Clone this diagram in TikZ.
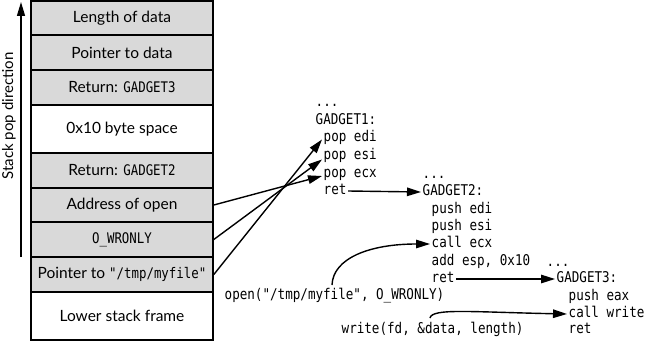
\documentclass[tikz,border=0pt]{standalone}
\usepackage{fontspec}
\setmainfont{Lato}
\newfontfamily\codefont[FakeStretch=0.85]{DejaVu Sans Mono}
\usetikzlibrary{arrows.meta}
\definecolor{cellgray}{RGB}{217,217,217}
\tikzset{
  cell/.style={draw=black, line width=1.6pt, minimum width=182pt, inner sep=0pt, font=\fontsize{15.5}{17}\selectfont, text=black},
  grey/.style={cell, fill=cellgray},
  white/.style={cell, fill=white},
  code/.style={anchor=west, inner sep=1.5pt, font=\codefont\fontsize{14.8}{17}\selectfont, text height=8.5pt, text depth=2pt},
  arr/.style={line width=1.4pt, -{Triangle[length=14pt,width=8.5pt]}},
}
\newcommand{\cm}[1]{{\codefont\fontsize{14.6}{17}\selectfont #1}}
\begin{document}
\begin{tikzpicture}[x=1pt,y=-1pt]
\useasboundingbox (0,0) rectangle (647,342);
% stack
\node[grey, minimum height=34pt] (r1) at (122,18) {Length of data};
\node[grey, minimum height=35pt] (r2) at (122,52.5) {Pointer to data};
\node[grey, minimum height=35pt] (r3) at (122,87.5) {Return: \cm{GADGET3}};
\node[white, minimum height=48pt] (r4) at (122,129) {0x10 byte space};
\node[grey, minimum height=35pt] (r5) at (122,170.5) {Return: \cm{GADGET2}};
\node[grey, minimum height=34pt] (ao) at (122,205) {Address of open};
\node[grey, minimum height=35pt] (ow) at (122,239.5) {\cm{O\_WRONLY}};
\node[grey, minimum height=35pt] (pt) at (122,274.5) {Pointer to \cm{"/tmp/myfile"}};
\node[white, minimum height=48pt] (r9) at (122,316) {Lower stack frame};
% stack pop direction
\coordinate (sb) at (21,257);
\coordinate (st) at (21,2);
\draw[line width=1.4pt, -{Triangle[length=14pt,width=8pt]}] (sb) -- (st);
\node[rotate=90, font=\fontsize{15}{17}\selectfont, text=black] (spd) at (9,116) {Stack pop direction};
% gadget 1
\node[code] (d1) at (314,103) {...};
\node[code] (g1) at (314,121) {GADGET1:};
\node[code] (pedi) at (322,138.5) {pop edi};
\node[code] (pesi) at (322,156.5) {pop esi};
\node[code] (pecx) at (322,174) {pop ecx};
\node[code] (ret1) at (322,191) {ret};
% gadget 2
\node[code] (d2) at (421,175) {...};
\node[code] (g2) at (421,192) {GADGET2:};
\node[code] (push1) at (430,210) {push edi};
\node[code] (push2) at (430,227) {push esi};
\node[code] (ce) at (430,244) {call ecx};
\node[code] (ae) at (430,262) {add esp, 0x10};
\node[code] (ret2) at (430,279) {ret};
% gadget 3
\node[code] (d3) at (545,263) {...};
\node[code] (g3) at (555,279) {GADGET3:};
\node[code] (pe) at (567,297) {push eax};
\node[code] (cw) at (567,314) {call write};
\node[code] (ret3) at (567,330) {ret};
% calls
\node[code] (op) at (223,296) {open("/tmp/myfile", O\_WRONLY)};
\node[code] (wr) at (340,330) {write(fd, \&data, length)};
% arrows
\draw[arr] (ret1.east) -- (g2.west);
\draw[arr] (ret2.east) -- (g3.west);
\draw[arr] (ao.east) -- ([yshift=-2pt]pecx.west);
\draw[arr] (ow.east) -- ([yshift=-3pt]pesi.west);
\draw[arr] (pt.east) -- ([yshift=-1pt]pedi.west);
\coordinate (o1) at (332,285);
\draw[arr] (o1) .. controls (333,258) and (370,244) .. (ce.west);
\coordinate (w1) at (430,318);
\draw[arr] (w1) .. controls (432,308) and (470,312) .. (cw.west);
\end{tikzpicture}
\end{document}
